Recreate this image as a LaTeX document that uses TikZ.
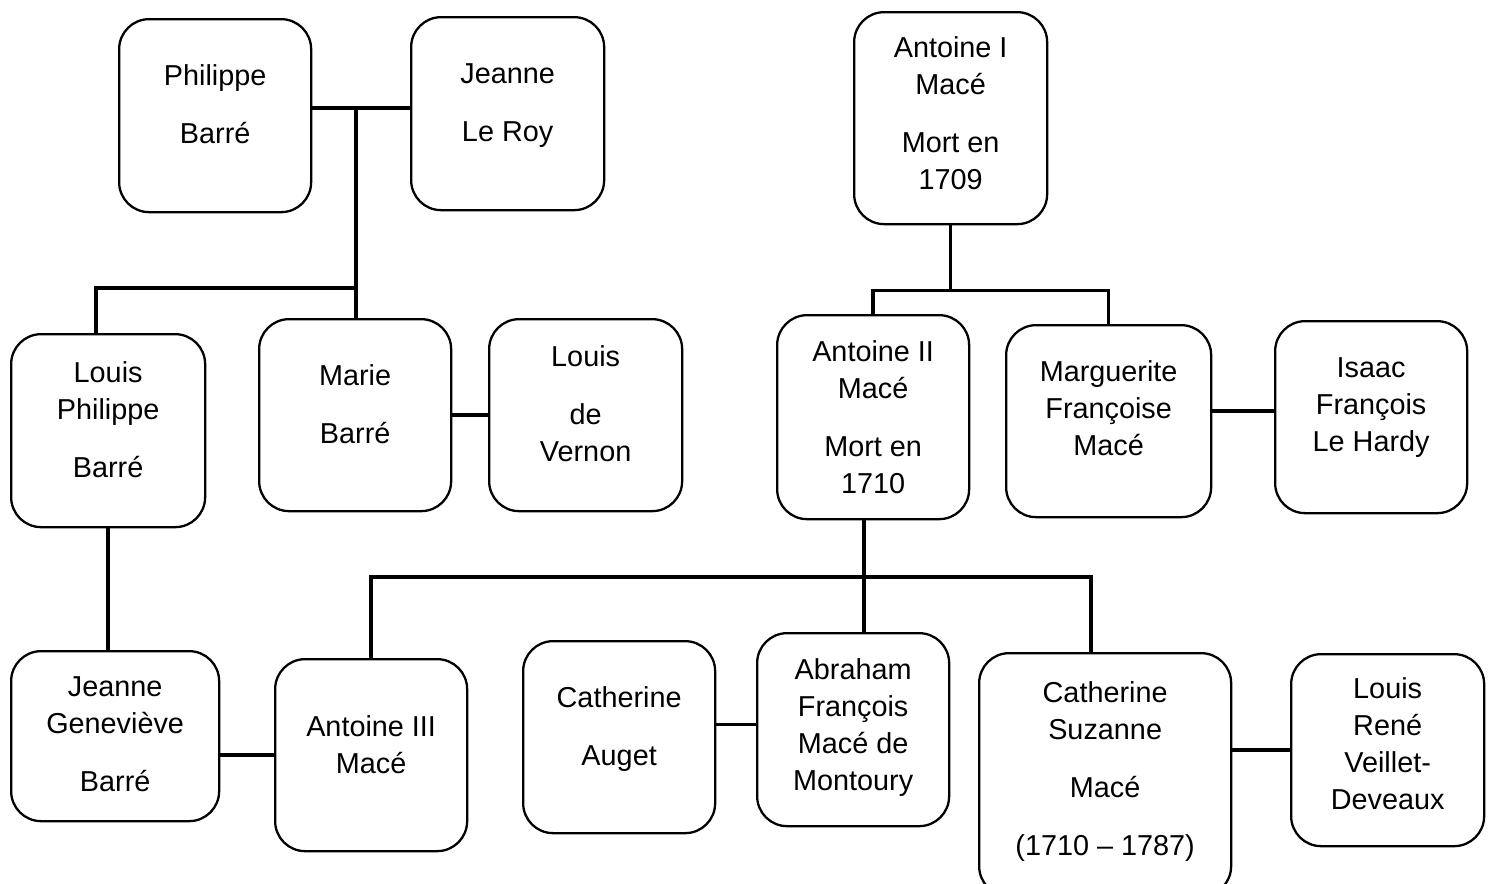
\documentclass[tikz,border=0pt]{standalone}
\usepackage{fontspec}
\setmainfont{Liberation Sans}
\usetikzlibrary{calc}

\tikzset{
  personne/.style={draw, rounded corners=0.3cm, line width=0.65pt, inner sep=0pt,
    align=center, anchor=north west, minimum width=1.92cm,
    font={\fontsize{8.2pt}{10.53pt}\selectfont}},
  lien/.style={line width=1pt}
}

\begin{document}
\begin{tikzpicture}
    \useasboundingbox (0,0) rectangle (14.9,-8.83);
    % famille Barre
    \node[personne, text height=1.24cm, text depth=0.69cm] (philippe) at (1.18,-0.18) {Philippe\\[0.21cm]Barré};
    \node[personne, minimum width=1.93cm, text height=1.24cm, text depth=0.69cm] (jeanneroy) at (4.10,-0.16) {Jeanne\\[0.21cm]Le Roy};
    \node[personne, minimum width=1.94cm, text height=1.43cm, text depth=0.50cm] (louisph) at (0.10,-3.33) {Louis\\Philippe\\[0.21cm]Barré};
    \node[personne, text height=1.24cm, text depth=0.68cm] (marie) at (2.58,-3.18) {Marie\\[0.21cm]Barré};
    \node[personne, minimum width=1.93cm, text height=1.42cm, text depth=0.50cm] (vernon) at (4.88,-3.18) {Louis\\[0.21cm]de\\Vernon};
    \node[personne, minimum width=2.08cm, text height=1.40cm, text depth=0.30cm] (jeannegen) at (0.10,-6.50) {Jeanne\\Geneviève\\[0.21cm]Barré};
    % famille Mace
    \node[personne, minimum width=1.93cm, text height=1.77cm, text depth=0.35cm] (antoine1) at (8.53,-0.11) {Antoine I\\Macé\\[0.21cm]Mort en\\1709};
    \node[personne, text height=1.78cm, text depth=0.26cm] (antoine2) at (7.76,-3.14) {Antoine II\\Macé\\[0.21cm]Mort en\\1710};
    \node[personne, minimum width=2.05cm, text height=1.30cm, text depth=0.62cm] (marguerite) at (10.05,-3.24) {Marguerite\\Françoise\\Macé};
    \node[personne, text height=1.30cm, text depth=0.62cm] (isaac) at (12.74,-3.20) {Isaac\\François\\Le Hardy};
    \node[personne, text height=1.14cm, text depth=0.78cm] (antoine3) at (2.74,-6.58) {Antoine III\\Macé};
    \node[personne, text height=1.24cm, text depth=0.68cm] (auget) at (5.22,-6.40) {Catherine\\[0.21cm]Auget};
    \node[personne, text height=1.57cm, text depth=0.36cm] (abraham) at (7.56,-6.32) {Abraham\\François\\Macé de\\Montoury};
    \node[personne, minimum width=2.52cm, text height=2.02cm, text depth=0.41cm] (suzanne) at (9.78,-6.52) {Catherine\\Suzanne\\[0.21cm]Macé\\[0.21cm](1710 – 1787)};
    \node[personne, minimum width=1.93cm, text height=1.55cm, text depth=0.37cm] (veillet) at (12.90,-6.53) {Louis\\René\\Veillet-\\Deveaux};

    % liens
    \coordinate (m1) at (3.56,-1.08);
    \coordinate (f1) at (3.56,-2.88);
    \draw[lien] (philippe.east |- m1) -- (jeanneroy.west |- m1);
    \draw[lien] (m1) -- (m1 |- marie.north);
    \draw[lien] ([xshift=-0.12cm]louisph.north) |- (f1);
    \draw[lien] (marie) -- (vernon);
    \draw[lien] (louisph.south) -- (louisph.south |- jeannegen.north);
    \draw[lien] (antoine3.west) -- (antoine3.west -| jeannegen.east);

    \draw[lien] (antoine1.south) -- ++(0,-0.65) coordinate (f2);
    \draw[lien] (antoine2.north) |- (f2) -| (marguerite.north);
    \draw[lien] ([yshift=0.1cm]marguerite.east) -- ([yshift=0.1cm]marguerite.east -| isaac.west);

    \coordinate (f3) at (8.64,-5.77);
    \draw[lien] (f3 |- antoine2.south) -- (f3 |- abraham.north);
    \draw[lien] (antoine3.north) |- (f3) -| ([xshift=-0.14cm]suzanne.north);
    \draw[lien] ([yshift=0.05cm]abraham.west) -- ([yshift=0.05cm]abraham.west -| auget.east);
    \draw[lien] (veillet.west) -- (veillet.west -| suzanne.east);
  \end{tikzpicture}
\end{document}
